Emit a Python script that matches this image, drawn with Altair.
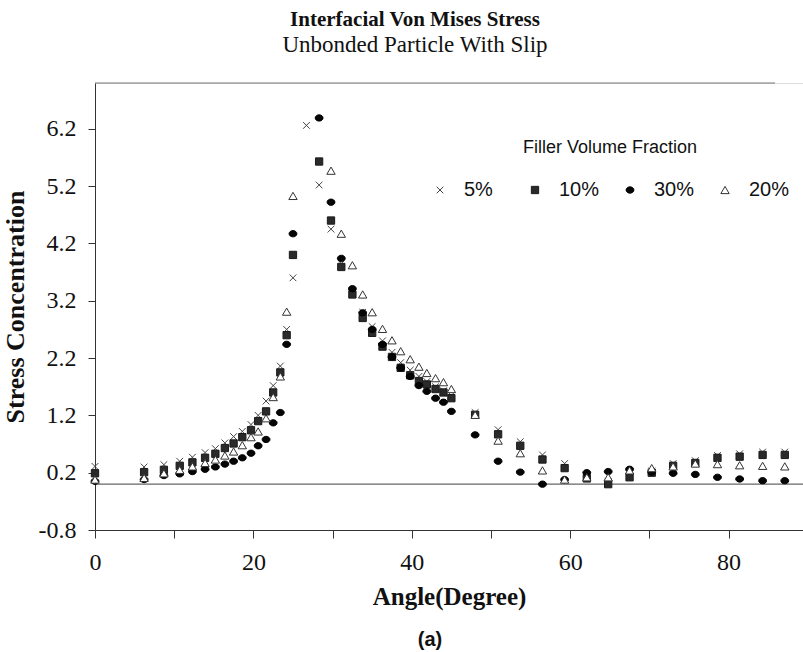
import altair as alt
import pandas as pd

# ---- data -------------------------------------------------------------
ANGLES = [0, 6.2, 8.7, 10.7, 12.3, 13.9, 15.2, 16.4, 17.5, 18.6,
          19.7, 20.6, 21.6, 22.5, 23.4, 24.2, 25.0, 26.7, 28.3, 29.8,
          31.1, 32.5, 33.8, 35.0, 36.3, 37.5, 38.6, 39.8, 40.9, 41.9,
          43.0, 44.0, 45.0, 48.0, 50.9, 53.7, 56.5, 59.3, 62.1, 64.8,
          67.5, 70.3, 73.0, 75.8, 78.6, 81.4, 84.3, 87.1]

SERIES = ["5%", "10%", "30%", "20%"]

V5 = [0.31, 0.30, 0.34, 0.40, 0.47, 0.55, 0.62, 0.72, 0.83, 0.92,
      1.04, 1.20, 1.45, 1.72, 2.06, 2.70, 3.60, 6.26, 5.22, 4.45,
      3.85, 3.38, 3.00, 2.75, 2.50, 2.30, 2.12, 1.99, 1.88, 1.79,
      1.70, 1.63, 1.55, 1.25, 0.95, 0.74, 0.51, 0.36, 0.15, 0.05,
      0.15, 0.23, 0.36, 0.41, 0.50, 0.53, 0.56, 0.56]

V10 = [0.19, 0.21, 0.25, 0.32, 0.38, 0.46, 0.53, 0.63, 0.71, 0.82,
       0.94, 1.10, 1.27, 1.60, 1.95, 2.60, 4.00, None, 5.63, 4.60,
       3.79, 3.31, 2.90, 2.64, 2.40, 2.22, 2.03, 1.90, 1.80, 1.74,
       1.66, 1.60, 1.50, 1.21, 0.87, 0.67, 0.43, 0.28, 0.10, 0.00,
       0.12, 0.20, 0.32, 0.37, 0.46, 0.48, 0.51, 0.51]

V30 = [0.05, 0.08, 0.15, 0.18, 0.22, 0.26, 0.30, 0.35, 0.40, 0.46,
       0.54, 0.67, 0.78, 1.07, 1.25, 2.44, 4.37, None, 6.39, 4.92,
       3.94, 3.41, 2.99, 2.70, 2.44, 2.22, 2.03, 1.88, 1.72, 1.62,
       1.50, 1.43, 1.27, 0.86, 0.40, 0.21, 0.00, 0.08, 0.20, 0.22,
       0.26, 0.21, 0.19, 0.17, 0.12, 0.09, 0.06, 0.06]

V20 = [0.08, 0.11, 0.19, 0.25, 0.31, 0.37, 0.43, 0.50, 0.57, 0.68,
       0.82, 0.92, 1.15, 1.52, 1.88, 3.01, 5.03, None, None, 5.47,
       4.37, 3.82, 3.31, 3.00, 2.71, 2.51, 2.32, 2.18, 2.05, 1.94,
       1.85, 1.78, 1.66, 1.21, 0.76, 0.54, 0.24, 0.08, 0.12, 0.12,
       0.24, 0.28, 0.31, 0.36, 0.35, 0.33, 0.32, 0.31]

X_TICKS = [0, 10, 20, 30, 40, 50, 60, 70, 80]
Y_TICKS = [-0.8, -0.3, 0.2, 0.7, 1.2, 1.7, 2.2, 2.7, 3.2, 3.7,
           4.2, 4.7, 5.2, 5.7, 6.2, 6.7]
ZERO_LINE = [0]
CAPTION = ["(a)"]

# ---- long table --------------------------------------------------------
rows = []
for name, vals in zip(SERIES, [V5, V10, V30, V20]):
    for a, v in zip(ANGLES, vals):
        if v is not None:
            rows.append({"angle": a, "stress": v, "series": name})
df = pd.DataFrame(rows)

SERIF = "Liberation Serif"
SANS = "Liberation Sans"
W, H = 708, 447

X_SHAPE = "M-1,-1L1,1M-1,1L1,-1"
ELLIPSE = "M-1,0A1,0.8 0 1,1 1,0A1,0.8 0 1,1 -1,0Z"

legend = alt.Legend(
    orient="none", legendX=335, legendY=56, direction="horizontal",
    columns=4, gridAlign="all", columnPadding=20,
    title="Filler Volume Fraction", titleFont=SANS, titleFontSize=18,
    titleFontWeight="normal", titleColor="#111", titleAnchor="middle",
    titlePadding=23, labelFont=SANS, labelFontSize=20, labelColor="#111",
    labelOffset=14, symbolOpacity=1, symbolStrokeWidth=1,
)

dom = SERIES

points = alt.Chart(df).mark_point(opacity=1, strokeWidth=1).encode(
    x=alt.X("angle:Q",
            scale=alt.Scale(domain=[0, 89.4], nice=False, zero=False),
            axis=alt.Axis(values=X_TICKS, title="Angle(Degree)",
                          labelExpr="datum.value % 20 == 0 ? datum.label : ''",
                          labelFont=SERIF, labelFontSize=24, labelColor="#111",
                          labelFlush=False, labelOverlap=False,
                          tickSize=8, labelPadding=12,
                          tickColor="#333", domainColor="#333",
                          titleFont=SERIF, titleFontSize=25,
                          titleFontWeight="bold", titleColor="#111",
                          titlePadding=10, grid=False)),
    y=alt.Y("stress:Q",
            scale=alt.Scale(domain=[-0.8, 7.0], nice=False, zero=False),
            axis=alt.Axis(values=Y_TICKS, title="Stress Concentration",
                          labelExpr="round((datum.value + 0.8) * 10) % 10 == 0 ? "
                                    "((datum.value < 0 ? '-' : '') + format(abs(datum.value), '.1f')) : ''",
                          labelFont=SERIF, labelFontSize=24, labelColor="#111",
                          labelFlush=False, labelOverlap=False,
                          tickSize=7, labelPadding=12,
                          tickColor="#333", domainColor="#333",
                          titleFont=SERIF, titleFontSize=26,
                          titleFontWeight="bold", titleColor="#111",
                          titlePadding=10, grid=False)),
    shape=alt.Shape("series:N", scale=alt.Scale(domain=dom,
                    range=[X_SHAPE, "square", ELLIPSE, "triangle-up"]),
                    legend=legend),
    fill=alt.Fill("series:N", scale=alt.Scale(domain=dom,
                  range=["transparent", "#2a2a2a", "#050505", "#ffffff"]),
                  legend=legend),
    stroke=alt.Stroke("series:N", scale=alt.Scale(domain=dom,
                      range=["#444444", "#1a1a1a", "#000000", "#333333"]),
                      legend=legend),
    size=alt.Size("series:N", scale=alt.Scale(domain=dom,
                  range=[45, 70, 80, 26]),
                  legend=legend),
)

zero = alt.Chart(pd.DataFrame({"y": ZERO_LINE})).mark_rule(
    color="#666666", strokeWidth=1.2).encode(y="y:Q")

top_line = alt.Chart(pd.DataFrame({"y": ZERO_LINE})).mark_rule(
    color="#777777", strokeWidth=1).encode(
    x=alt.value(0), x2=alt.value(680), y=alt.value(0))

caption = alt.Chart(pd.DataFrame({"t": CAPTION})).mark_text(
    font=SANS, fontSize=20, fontWeight="bold", color="#111",
    align="center", baseline="middle").encode(
    text="t:N", x=alt.value(335), y=alt.value(557))

chart = alt.layer(zero, top_line, points, caption).properties(
    width=W, height=H,
    title=alt.TitleParams(
        text="Interfacial Von Mises Stress",
        subtitle="Unbonded Particle With Slip",
        font=SERIF, fontSize=21, fontWeight="bold", color="#111",
        subtitleFont=SERIF, subtitleFontSize=23, subtitleColor="#111",
        subtitleFontWeight="normal", subtitlePadding=4,
        anchor="middle", dx=-34, offset=26),
    autosize=alt.AutoSizeParams(type="none"),
    padding={"left": 95, "top": 83, "right": 0, "bottom": 122},
).configure_view(stroke=None).configure(background="white")

chart.save("out.html", embed_options={"renderer": "svg", "actions": False})
